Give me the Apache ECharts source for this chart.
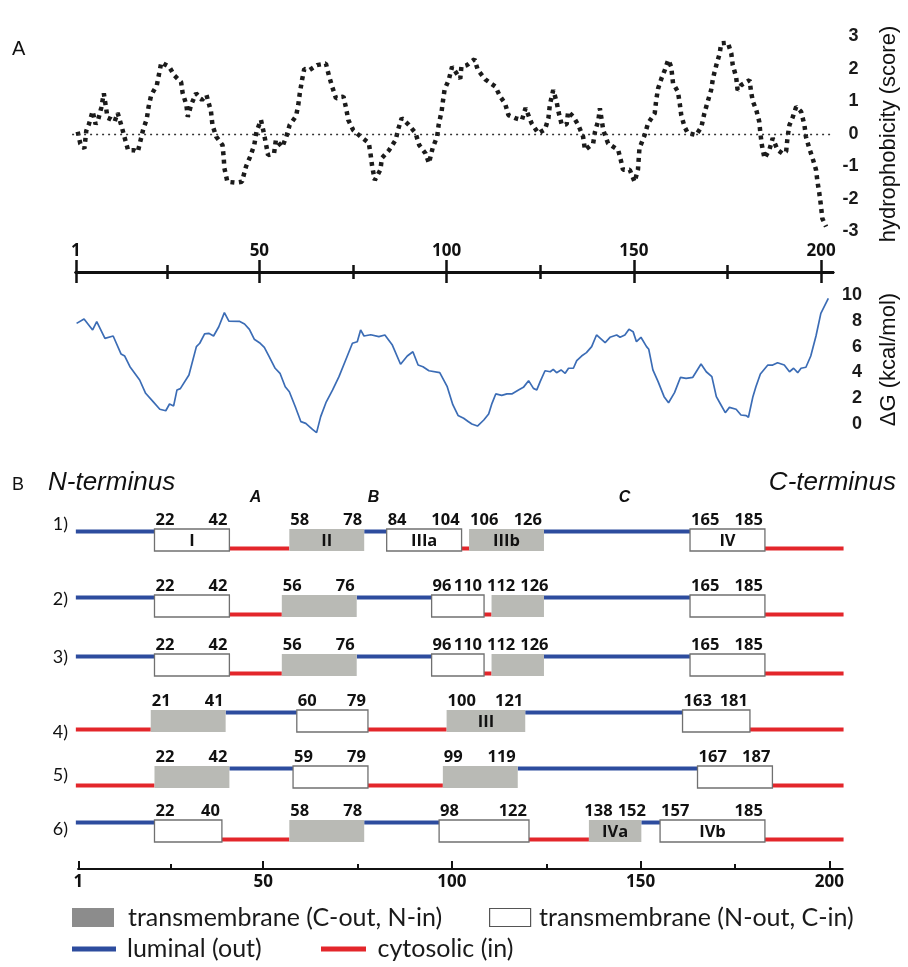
<!DOCTYPE html>
<html>
<head>
<meta charset="utf-8">
<title>Hydrophobicity, insertion energy and topology models</title>
<script src="https://cdn.jsdelivr.net/npm/echarts@6.0.0/dist/echarts.min.js"></script>
<style>
  html, body { margin: 0; padding: 0; background: #fff; }
  #main { width: 908px; height: 967px; }
</style>
</head>
<body>
<div id="main"></div>
<script>
// hydrophobicity profile (residue, score)
var hydroRes = [1.5,2.2,3.3,3.8,4.5,5.5,6.3,7,7.8,8.5,
  9.5,10.5,11.4,12.2,13.3,14,15,15.8,16.6,17.6,
  19,20,20.5,21.2,22.7,23.9,26,27.4,29.2,29.6,
  30.6,31,31.9,33.2,34.8,36,37.2,37.6,38.6,40.3,
  40.6,40.8,41.6,43.9,45.5,46.6,47.7,48.8,49.4,50.6,
  51.3,51.9,52.5,54.1,54.6,56.3,57.4,58.3,60,60.6,
  61,61.6,62.2,63.6,65.6,68,68.8,69.7,70.7,72.7,
  73.4,74,75.3,77.3,79.5,80,80.4,81.1,82.6,83,
  84.9,86.7,87.3,88.3,90.2,92,93,94.7,95.6,96.6,
  97.8,98.2,99,99.4,99.8,100.9,101.8,104,104.3,105.8,
  107.8,108.7,110.7,113.4,114.7,116,116.9,118.9,120.5,121.5,
  123.1,124.9,126.7,127.6,128,128.9,129.8,130.3,131.2,132.5,
  132.9,134.3,135.6,136.9,137.4,139.6,140.1,141,141.4,142.3,
  143.6,146.3,147,147.6,149.4,150.7,151.6,152,153.4,154.3,
  156.1,156.5,157,157.9,158.8,159.7,160.5,161,162.3,162.8,
  163.2,164.1,165,166,167.2,168.6,169.4,170.3,171.2,171.7,
  172.6,173.5,173.9,175.7,176.6,177,177.9,178.3,179.2,181.5,
  181.9,182.4,183.3,184.1,184.4,184.8,185.5,186.8,187.7,189,
  190.3,191.3,191.7,192.2,193.1,194,195.3,196.2,196.6,197.5,
  198.4,199.3,199.7,200.2,200.6,201,202];
var hydroScore = [0.07,-0.3,-0.45,0.1,0.3,0.7,0.3,0.45,0.8,1.25,
  0.5,0.45,0.38,0.65,0.22,-0.08,-0.5,-0.5,-0.5,-0.55,
  0.12,0.46,0.84,1.2,1.5,2.2,2.07,1.8,1.6,1.27,
  0.9,0.53,0.9,1.25,1.05,1.2,0.7,0.28,-0.08,-0.34,
  -0.7,-1.05,-1.47,-1.5,-1.47,-1.0,-0.7,-0.34,0.07,0.43,
  0.07,-0.28,-0.65,-0.6,-0.18,-0.4,-0.08,0.28,0.55,0.9,
  1.25,1.66,2.0,1.97,2.12,2.17,1.8,1.45,1.1,1.15,
  0.8,0.43,0.12,-0.08,-0.28,-0.65,-1.0,-1.42,-1.1,-0.74,
  -0.5,-0.18,0.12,0.49,0.28,0.03,-0.34,-0.6,-0.9,-0.43,
  -0.08,0.28,0.7,1.05,1.37,1.66,2.07,1.7,2.07,2.12,
  2.3,1.97,1.68,1.46,1.15,0.94,0.58,0.48,0.43,0.8,
  0.33,0.02,0.14,0.48,0.9,1.35,1.0,0.69,0.28,0.3,
  0.69,0.53,0.28,-0.08,-0.49,-0.29,0.07,0.43,0.79,0.12,
  -0.29,-0.49,-0.8,-1.1,-1.1,-1.47,-1.1,-0.44,-0.03,0.33,
  0.64,1.05,1.4,1.71,1.97,2.28,2.07,1.56,1.3,0.94,
  0.58,0.22,0.02,0.0,-0.03,0.22,0.64,1.0,1.35,1.71,
  2.12,2.48,2.79,2.81,2.48,2.12,1.76,1.35,1.5,1.66,
  1.3,1.0,0.74,0.38,0.02,-0.34,-0.75,-0.49,-0.13,-0.49,
  -0.6,-0.54,-0.08,0.28,0.53,0.84,0.69,0.28,-0.08,-0.44,
  -0.75,-1.1,-1.47,-1.83,-2.18,-2.6,-2.85];

// insertion free energy (residue, kcal/mol)
var dgRes = [1.2,3.2,5.5,6.6,8.8,11,13.1,14.1,15.5,18.1,
  19.7,21.7,23.5,25.1,26.1,27.2,28.1,29,31.3,33.3,
  34.2,35.5,36.6,37.9,39.3,40.8,42,44.8,46.2,47.5,
  48.8,50.2,51.5,52.8,54.4,55.7,57.1,58.2,59.8,61.3,
  62.6,64.4,65.5,66.6,68,69.8,71.5,73.3,75.1,76.4,
  77.3,78.2,80,82.2,83.8,85.8,88,89.8,91.3,92.7,
  94,95.6,98.5,100.5,102,103.4,104.9,106.2,107.1,108.6,
  110.3,111.6,112.5,113.5,115.1,116.5,117.8,119.6,120.9,122.3,
  123.6,124.5,125.4,126.7,128.1,128.9,129.8,131,132.1,133,
  134.3,135.2,136.5,137.8,139.2,140.5,142.8,144.1,145.9,146.8,
  148.1,149.2,150.3,151.2,152.4,153.9,154.5,155.6,157,158.6,
  159.8,161.4,163,164.5,166.3,168.5,169.9,171.4,172.6,173.7,
  175,176.1,177.9,179.2,180.6,181.2,182.4,183.2,184.4,186.4,
  187.7,189,190.8,192.2,193.3,194.4,195.3,196.6,197.9,199.3,
  200.6,202.6];
var dgValue = [7.8,8.14,7.29,7.93,6.64,6.82,5.43,5.27,4.44,3.41,
  2.38,1.73,1.14,1.03,1.55,1.4,2.64,2.74,3.8,6.0,
  6.26,6.98,7.03,6.82,7.54,8.63,7.98,7.96,7.75,7.34,
  6.57,6.3,5.94,5.22,4.32,3.93,2.89,2.5,1.34,0.18,
  0.05,-0.41,-0.67,0.57,1.65,2.64,3.67,4.96,6.26,6.38,
  7.29,6.82,6.92,6.77,6.9,6.12,4.63,5.27,5.6,4.57,
  4.44,4.13,3.98,2.89,1.5,0.66,0.44,0.18,0.0,-0.16,
  0.31,0.78,1.6,2.33,2.22,2.33,2.33,2.64,2.84,3.36,
  2.76,2.64,3.28,4.13,4.05,4.24,3.98,4.19,3.93,4.32,
  4.32,4.91,5.27,5.53,6.0,6.9,6.3,6.72,6.9,6.72,
  6.9,7.34,7.16,6.38,6.72,6.0,5.79,4.19,3.28,2.12,
  1.65,2.43,3.62,3.54,3.62,4.65,4.05,3.67,2.12,1.55,
  0.88,1.29,1.14,0.7,0.65,0.52,2.12,2.89,3.88,4.57,
  4.57,4.75,4.57,4.05,4.32,3.98,4.32,4.4,5.27,6.82,
  8.58,9.74];

var axisMarks = [1, 50, 100, 150, 200];
var axisMinor = [25.5, 75, 125, 175];
var proteinLength = 206;

// topology models: [first, last, orientation, label]
// N = N-out/C-in (white box), C = C-out/N-in (grey box)
var model1 = [[22, 42, 'N', 'I'], [58, 78, 'C', 'II'], [84, 104, 'N', 'IIIa'], [106, 126, 'C', 'IIIb'], [165, 185, 'N', 'IV']];
var model2 = [[22, 42, 'N', ''], [56, 76, 'C', ''], [96, 110, 'N', ''], [112, 126, 'C', ''], [165, 185, 'N', '']];
var model3 = [[22, 42, 'N', ''], [56, 76, 'C', ''], [96, 110, 'N', ''], [112, 126, 'C', ''], [165, 185, 'N', '']];
var model4 = [[21, 41, 'C', ''], [60, 79, 'N', ''], [100, 121, 'C', 'III'], [163, 181, 'N', '']];
var model5 = [[22, 42, 'C', ''], [59, 79, 'N', ''], [99, 119, 'C', ''], [167, 187, 'N', '']];
var model6 = [[22, 40, 'N', ''], [58, 78, 'C', ''], [98, 122, 'N', ''], [138, 152, 'C', 'IVa'], [157, 185, 'N', 'IVb']];
var models = [model1, model2, model3, model4, model5, model6];
var modelNames = ['1)', '2)', '3)', '4)', '5)', '6)'];

var regionNames = ['A', 'B', 'C'];
var regionRes = [49, 80.5, 147.5];

var NAME_GREY = 'transmembrane (C-out, N-in)';
var NAME_WHITE = 'transmembrane (N-out, C-in)';
var NAME_OUT = 'luminal (out)';
var NAME_IN = 'cytosolic (in)';

// layout
var X0 = 72.1, PX = 3.745, plotW = proteinLength * PX;
var rowTop = [529, 595, 654, 710, 766, 820];
var rowLabelY = [524, 599, 657, 732, 775, 829];
var rowH = 22;
var BLUE = '#2d4c9e', RED = '#e3262b', GREY = '#b9bab5';
var numFont = 'Open Sans';

function loopsOf(model) {
  var out = [], inn = [];
  var pos = 1;
  var side = model[0][2] === 'N' ? 'out' : 'in';
  model.forEach(function (tm) {
    (side === 'out' ? out : inn).push([pos, tm[0]]);
    pos = tm[1];
    side = tm[2] === 'N' ? 'in' : 'out';
  });
  (side === 'out' ? out : inn).push([pos, proteinLength]);
  return { out: out, inn: inn };
}

function loopRender(side, color) {
  return function (params, api) {
    var a = api.coord([api.value(0), 1]);
    var b = api.coord([api.value(1), 0]);
    var y = side === 'out' ? a[1] + 0.5 : b[1] - 4.5;
    return { type: 'rect', shape: { x: a[0], y: y, width: b[0] - a[0], height: 4 }, style: { fill: color } };
  };
}

function boxRender(boxes, grey) {
  return function (params, api) {
    var tm = boxes[params.dataIndex];
    var tl = api.coord([api.value(0), 1]);
    var br = api.coord([api.value(1), 0]);
    var w = br[0] - tl[0], h = br[1] - tl[1];
    var fs = 16.5, dw = 0.57 * fs;
    var a = String(tm[0]), b = String(tm[1]);
    var ax, aAl, bx, bAl;
    // numbers that do not fit side by side are centred over the box
    if ((a.length + b.length) * dw > w) {
      ax = tl[0] + w / 2 - 2.5; aAl = 'right';
      bx = tl[0] + w / 2 + 2.5; bAl = 'left';
    } else {
      ax = tl[0] + 1; aAl = 'left';
      bx = br[0] - 2; bAl = 'right';
    }
    var txt = { fontFamily: numFont, fontSize: fs, fontWeight: 'bold', fill: '#111', verticalAlign: 'middle' };
    var children = [
      { type: 'rect', shape: { x: tl[0], y: tl[1], width: w, height: h },
        style: grey ? { fill: GREY } : { fill: '#fff', stroke: '#707070', lineWidth: 1.3 } },
      { type: 'text', style: Object.assign({ text: a, x: ax, y: tl[1] - 9, align: aAl }, txt) },
      { type: 'text', style: Object.assign({ text: b, x: bx, y: tl[1] - 9, align: bAl }, txt) }
    ];
    if (tm[3]) {
      children.push({ type: 'text', style: Object.assign({ text: tm[3], x: tl[0] + w / 2, y: tl[1] + h / 2 + 1, align: 'center' }, txt) });
    }
    return { type: 'group', children: children };
  };
}

var grids = [
  { left: X0, top: 36.5, width: plotW, height: 195 },
  { left: 75.85, top: 272, width: 757.2, height: 0 },
  { left: 75.85, top: 272, width: 757.2, height: 0 },
  { left: X0, top: 295, width: plotW, height: 129 },
  { left: 78.3, top: 869, width: 764.2, height: 0 },
  { left: 78.3, top: 869, width: 764.2, height: 0 }
];
rowTop.forEach(function (t) { grids.push({ left: X0, top: t, width: plotW, height: rowH }); });

var tickLbl = { fontFamily: numFont, fontSize: 17, fontWeight: 'bold', color: '#111' };
function hiddenX(g) { return { gridIndex: g, type: 'value', min: 0, max: proteinLength, show: false }; }
function hiddenY(g) { return { gridIndex: g, type: 'value', min: 0, max: 1, show: false }; }
function scaleAxis(g, pos, ticks, len, inside, labels, margin, lw, max) {
  return {
    gridIndex: g, type: 'value', min: 1, max: max, position: pos,
    axisLine: { show: true, lineStyle: { color: '#111', width: lw } },
    axisTick: { show: true, customValues: ticks, length: len, inside: inside, lineStyle: { color: '#111', width: lw } },
    axisLabel: labels ? Object.assign({ show: true, customValues: labels, margin: margin }, tickLbl) : { show: false },
    splitLine: { show: false }
  };
}

var xAxes = [
  hiddenX(0),
  scaleAxis(1, 'top', axisMarks, 12, false, axisMarks, 12, 2.5, 203.2),
  scaleAxis(1, 'bottom', axisMarks, 11, false, null, 0, 2.5, 203.2),
  scaleAxis(2, 'top', axisMinor, 7, false, null, 0, 2.5, 203.2),
  scaleAxis(2, 'bottom', axisMinor, 7, false, null, 0, 2.5, 203.2),
  hiddenX(3),
  scaleAxis(4, 'bottom', axisMarks, 8, true, axisMarks, 5, 2, 203.5),
  scaleAxis(5, 'bottom', axisMinor, 5, true, null, 0, 2, 203.5)
];
var yLbl = { align: 'right', fontFamily: 'Liberation Sans', fontSize: 18, fontWeight: 'bold', color: '#1a1a1a' };
var yName = { fontFamily: 'Liberation Sans', fontSize: 22, color: '#111' };
var yAxes = [
  {
    gridIndex: 0, type: 'value', min: -3, max: 3, interval: 1, position: 'right',
    axisLine: { show: false }, axisTick: { show: false }, splitLine: { show: false },
    axisLabel: Object.assign({ margin: 17.5 }, yLbl),
    name: 'hydrophobicity (score)', nameLocation: 'middle', nameGap: 37, nameTextStyle: yName
  },
  hiddenY(1), hiddenY(2),
  {
    gridIndex: 3, type: 'value', min: 0, max: 10, interval: 2, position: 'right',
    axisLine: { show: false }, axisTick: { show: false }, splitLine: { show: false },
    axisLabel: Object.assign({ margin: 21 }, yLbl),
    name: 'ΔG (kcal/mol)', nameLocation: 'middle', nameGap: 37, nameTextStyle: yName
  },
  hiddenY(4), hiddenY(5)
];

var series = [
  {
    type: 'line', xAxisIndex: 0, yAxisIndex: 0, symbol: 'none', clip: false,
    data: hydroRes.map(function (x, i) { return [x, hydroScore[i]]; }),
    lineStyle: { color: '#1b1b1b', width: 4.5, type: [4, 4.5], cap: 'butt' },
    markLine: {
      silent: true, symbol: ['none', 'none'], label: { show: false },
      lineStyle: { color: '#333', width: 1.4, type: [2, 4] },
      data: [[{ coord: [0, 0] }, { coord: [204, 0] }]]
    }
  },
  {
    type: 'line', xAxisIndex: 5, yAxisIndex: 3, symbol: 'none', clip: false,
    data: dgRes.map(function (x, i) { return [x, dgValue[i]]; }),
    lineStyle: { color: '#3b6cb5', width: 1.7 }
  }
];

models.forEach(function (model, r) {
  xAxes.push(hiddenX(6 + r));
  yAxes.push(hiddenY(6 + r));
  var loops = loopsOf(model);
  var greyBoxes = model.filter(function (t) { return t[2] === 'C'; });
  var whiteBoxes = model.filter(function (t) { return t[2] === 'N'; });
  var common = { type: 'custom', xAxisIndex: 8 + r, yAxisIndex: 6 + r, silent: true };
  series.push(Object.assign({ name: NAME_OUT, renderItem: loopRender('out', BLUE), data: loops.out, itemStyle: { color: BLUE } }, common));
  series.push(Object.assign({ name: NAME_IN, renderItem: loopRender('in', RED), data: loops.inn, itemStyle: { color: RED } }, common));
  series.push(Object.assign({ name: NAME_GREY, renderItem: boxRender(greyBoxes, true),
    data: greyBoxes.map(function (t) { return [t[0], t[1]]; }) }, common));
  series.push(Object.assign({ name: NAME_WHITE, renderItem: boxRender(whiteBoxes, false),
    data: whiteBoxes.map(function (t) { return [t[0], t[1]]; }) }, common));
});

series.push({
  type: 'custom', xAxisIndex: 8, yAxisIndex: 6, silent: true,
  data: regionRes.map(function (x) { return [x, 1]; }),
  renderItem: function (params, api) {
    var p = api.coord([api.value(0), 1]);
    return { type: 'text', style: { text: regionNames[params.dataIndex], x: p[0], y: p[1] - 31,
      align: 'center', verticalAlign: 'middle', fontFamily: 'Liberation Sans', fontSize: 16,
      fontWeight: 'bold', fontStyle: 'italic', fill: '#111' } };
  }
});

function legendAt(name, left, top, w, h, style, gap) {
  return {
    left: left, top: top, padding: 0, itemWidth: w, itemHeight: h, selectedMode: false,
    data: [{ name: name, icon: 'rect', itemStyle: style }],
    textStyle: { fontFamily: 'Lato', fontSize: 25, color: '#1a1a1a', lineHeight: 26, padding: [0, 0, 0, gap] }
  };
}

var graphics = [
  { type: 'text', style: { text: 'A', x: 12, y: 49, verticalAlign: 'middle', font: '20px "Liberation Sans"', fill: '#111' } },
  { type: 'text', style: { text: 'B', x: 12, y: 485, verticalAlign: 'middle', font: '18px "Liberation Sans"', fill: '#111' } },
  { type: 'text', style: { text: 'N-terminus', x: 48, y: 483, verticalAlign: 'middle', font: 'italic 26px "Liberation Sans"', fill: '#111' } },
  { type: 'text', style: { text: 'C-terminus', x: 896, y: 483, align: 'right', verticalAlign: 'middle', font: 'italic 26px "Liberation Sans"', fill: '#111' } }
];
modelNames.forEach(function (n, r) {
  graphics.push({ type: 'text', style: { text: n, x: 68, y: rowLabelY[r], align: 'right', verticalAlign: 'middle', font: '18px Lato', fill: '#111' } });
});

var chart = echarts.init(document.getElementById('main'), null, { renderer: 'canvas' });
chart.setOption({
  animation: false,
  backgroundColor: '#fff',
  grid: grids,
  xAxis: xAxes,
  yAxis: yAxes,
  legend: [
    legendAt(NAME_GREY, 72, 904.5, 42, 19, { color: '#8c8c8c' }, 9),
    legendAt(NAME_WHITE, 489, 904.5, 41, 18, { color: '#fff', borderColor: '#555', borderWidth: 1.2 }, 3.5),
    legendAt(NAME_OUT, 72, 936, 44, 5, { color: BLUE }, 6),
    legendAt(NAME_IN, 321, 936, 45, 5, { color: RED }, 6.5)
  ],
  graphic: graphics,
  series: series
});
</script>
</body>
</html>
